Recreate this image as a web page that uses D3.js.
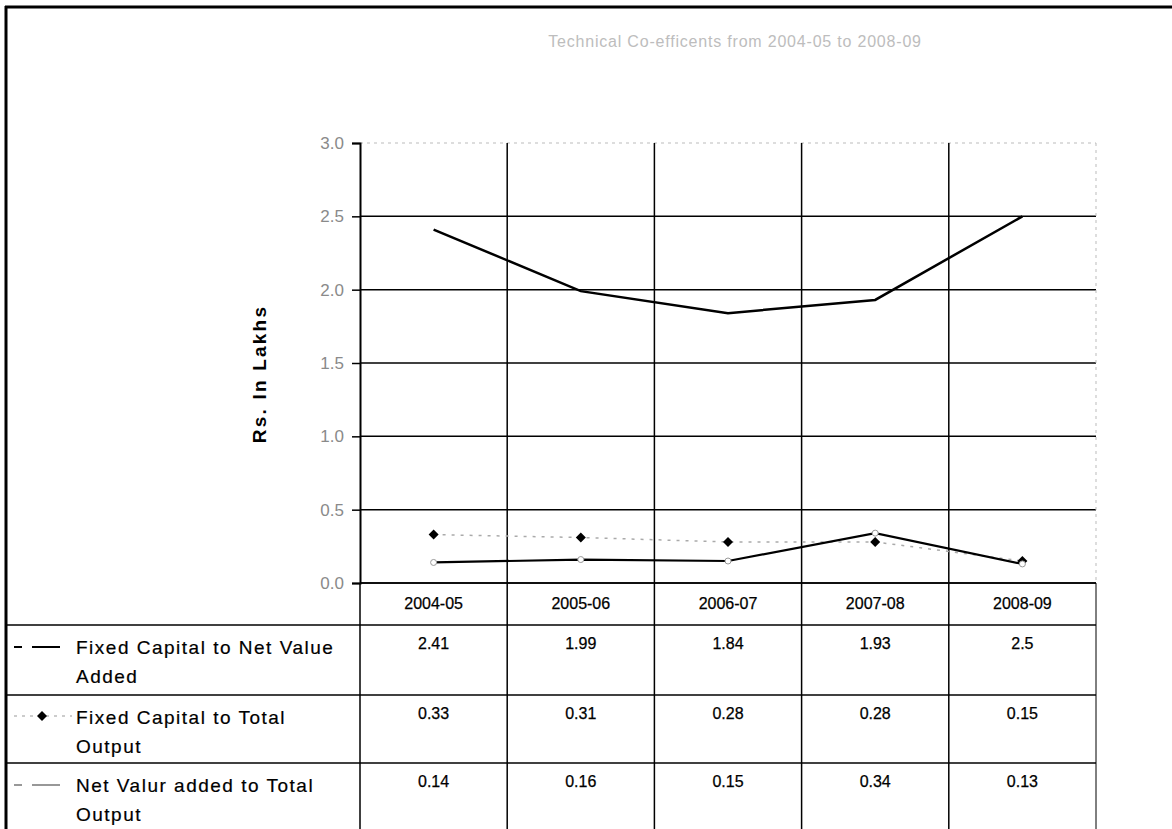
<!DOCTYPE html>
<html><head><meta charset="utf-8">
<script src="https://cdn.jsdelivr.net/npm/d3@7"></script>
<style>body{margin:0;background:#fff;} text{font-family:"Liberation Sans",Arial,sans-serif;}</style>
</head><body>
<svg id="c" width="1172" height="829"></svg>
<script>
const categories = ["2004-05","2005-06","2006-07","2007-08","2008-09"];
const seriesNames = [["Fixed Capital to Net Value","Added"],["Fixed Capital to Total","Output"],["Net Valur added to Total","Output"]];
const fcNva = [2.41,1.99,1.84,1.93,2.5];
const fcTo = [0.33,0.31,0.28,0.28,0.15];
const nvaTo = [0.14,0.16,0.15,0.34,0.13];
const yTicks = [0,0.5,1.0,1.5,2.0,2.5,3.0];
const title = "Technical Co-efficents from 2004-05 to 2008-09";
const yTitle = "Rs. In Lakhs";

const svg = d3.select("#c");
const L=360, R=1096, T=143, B=583;
const x = d3.scaleBand().domain(categories).range([L,R]);
const y = d3.scaleLinear().domain([0,3]).range([B,T]);

// outer frame
svg.append("line").attr("x1",5).attr("x2",1172).attr("y1",7).attr("y2",7).attr("stroke","#000").attr("stroke-width",3);
svg.append("line").attr("x1",6).attr("x2",6).attr("y1",6).attr("y2",829).attr("stroke","#000").attr("stroke-width",3);

// title
svg.append("text").attr("x",735).attr("y",47).attr("text-anchor","middle").attr("font-size",16).attr("letter-spacing",0.8).attr("fill","#bdbdbd").text(title);

// grid
const g = svg.append("g");
g.selectAll("line.h").data(yTicks).join("line")
  .attr("x1",L).attr("x2",R).attr("y1",d=>y(d)).attr("y2",d=>y(d))
  .attr("stroke",d=>d===3?"#bbb":"#000").attr("stroke-width",d=>d===3?1:1.5)
  .attr("stroke-dasharray",d=>d===3?"3,4":null);
g.append("line").attr("x1",R).attr("x2",R).attr("y1",T).attr("y2",B).attr("stroke","#bbb").attr("stroke-dasharray","3,4");
g.selectAll("line.v").data(categories.slice(1)).join("line")
  .attr("x1",d=>x(d)).attr("x2",d=>x(d)).attr("y1",T).attr("y2",829).attr("stroke","#000").attr("stroke-width",1.5);

// y axis
const ya = d3.axisLeft(y).tickValues(yTicks).tickSize(8).tickFormat(d3.format(".1f"));
const ag = svg.append("g").attr("transform",`translate(${L},0)`).call(ya);
ag.select(".domain").attr("stroke","#000").attr("stroke-width",2);
ag.selectAll(".tick line").attr("stroke","#000").attr("stroke-width",1.5);
ag.selectAll(".tick text").attr("font-size",17).attr("fill","#8a8a8a").attr("x",-16).style("font-family","Liberation Sans, Arial");

svg.append("text").attr("transform","translate(266,374) rotate(-90)").attr("text-anchor","middle")
  .attr("font-size",19).attr("font-weight","bold").attr("letter-spacing",2.2).attr("fill","#000").text(yTitle);

// lines
const cx = d=>x(d)+x.bandwidth()/2;
const line = d3.line().x((v,i)=>cx(categories[i])).y(v=>y(v));
svg.append("path").datum(fcNva).attr("d",line).attr("fill","none").attr("stroke","#000").attr("stroke-width",2.5);
svg.append("path").datum(fcTo).attr("d",line).attr("fill","none").attr("stroke","#aaa").attr("stroke-width",1.5).attr("stroke-dasharray","3,6");
svg.append("path").datum(nvaTo).attr("d",line).attr("fill","none").attr("stroke","#000").attr("stroke-width",2.2);
const diamond = d3.symbol().type(d3.symbolSquare).size(50);
svg.selectAll("path.dm").data(fcTo).join("path").attr("d",diamond)
  .attr("transform",(v,i)=>`translate(${cx(categories[i])},${y(v)}) rotate(45)`).attr("fill","#000");
svg.selectAll("circle.nv").data(nvaTo).join("circle")
  .attr("cx",(v,i)=>cx(categories[i])).attr("cy",v=>y(v)).attr("r",3).attr("fill","#fff").attr("stroke","#999").attr("stroke-width",1);

// table
const rowTops=[583,625,695,763,829];
svg.append("line").attr("x1",L).attr("x2",R).attr("y1",B).attr("y2",B).attr("stroke","#000").attr("stroke-width",1.5);
[625,695,763].forEach(yy=>svg.append("line").attr("x1",5).attr("x2",R).attr("y1",yy).attr("y2",yy).attr("stroke","#000").attr("stroke-width",1.5));
svg.append("line").attr("x1",L).attr("x2",L).attr("y1",B).attr("y2",829).attr("stroke","#000").attr("stroke-width",1.5);
svg.append("line").attr("x1",R).attr("x2",R).attr("y1",B).attr("y2",829).attr("stroke","#000").attr("stroke-width",1);

svg.selectAll("text.cat").data(categories).join("text").attr("x",d=>cx(d)).attr("y",609)
  .attr("text-anchor","middle").attr("font-size",16).attr("fill","#000").attr("stroke","#000").attr("stroke-width",0.25).text(d=>d);
const fmt = v=>String(v);
[fcNva,fcTo,nvaTo].forEach((arr,r)=>{
  svg.selectAll(null).data(arr).join("text").attr("x",(v,i)=>cx(categories[i])).attr("y",rowTops[r+1]+24)
    .attr("text-anchor","middle").attr("font-size",16).attr("fill","#000").attr("stroke","#000").attr("stroke-width",0.25).text(fmt);
  const names = seriesNames[r];
  names.forEach((s,k)=>svg.append("text").attr("x",76).attr("y",rowTops[r+1]+29+k*29).attr("font-size",19).attr("letter-spacing",1.5)
    .attr("fill","#000").attr("stroke","#000").attr("stroke-width",0.2).text(s));
});
// legend keys
const ky=[647,716,785];
svg.append("line").attr("x1",14).attr("x2",70).attr("y1",ky[0]).attr("y2",ky[0]).attr("stroke","#000").attr("stroke-width",2.2).attr("stroke-dasharray","8,10,20,0");
svg.append("line").attr("x1",14).attr("x2",72).attr("y1",ky[1]).attr("y2",ky[1]).attr("stroke","#999").attr("stroke-width",1.2).attr("stroke-dasharray","3,5");
svg.append("path").attr("d",diamond).attr("transform",`translate(42,${ky[1]}) rotate(45)`).attr("fill","#000");
svg.append("line").attr("x1",14).attr("x2",70).attr("y1",ky[2]).attr("y2",ky[2]).attr("stroke","#777").attr("stroke-width",1.5).attr("stroke-dasharray","8,10,20,0");
</script>
</body></html>
